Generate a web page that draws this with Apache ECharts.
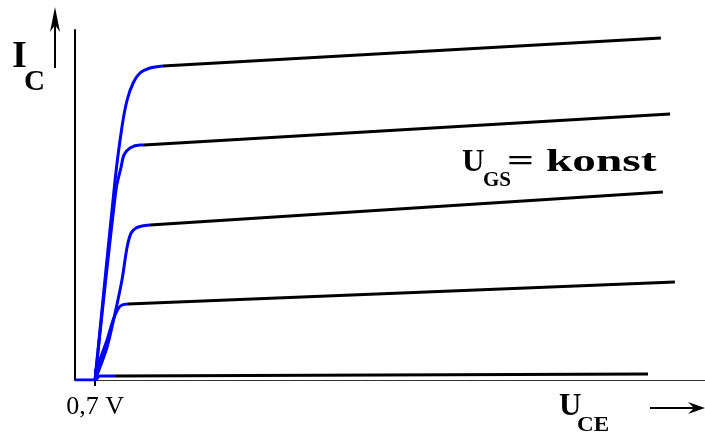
<!DOCTYPE html>
<html>
<head>
<meta charset="utf-8">
<title>MOSFET Kennlinien</title>
<script src="https://cdn.jsdelivr.net/npm/echarts@6/dist/echarts.min.js"></script>
<style>
  html, body { margin: 0; padding: 0; background: #fff; }
  #chart { width: 705px; height: 445px; }
</style>
</head>
<body>
<div id="chart"></div>
<script>
// U_CE in V, I_C in mA (schematic)
const xTicks = [0.7]
const xTickLabels = ['0,7 V']

// blauer Anstieg (ohmscher Bereich) je Kennlinie
const rise1 = [[0.7, 0], [1.4, 20], [1.64, 25.3], [1.82, 28], [2.03, 29.7], [2.27, 30.7], [2.62, 31.2], [3.07, 31.4]]
const rise2 = [[0.7, 0], [1.43, 19], [1.61, 21.3], [1.71, 22.5], [1.92, 23.2], [2.27, 23.5], [2.41, 23.5]]
const rise3 = [[0.7, 0], [1.12, 3.3], [1.4, 6.7], [1.64, 10], [1.82, 13.3], [1.96, 14.7], [2.13, 15.2], [2.34, 15.4], [2.62, 15.5]]
const rise4 = [[0.7, 0], [0.87, 2], [1.12, 4], [1.33, 6], [1.5, 7.1], [1.64, 7.5], [1.85, 7.6]]
const rise5 = [[0, 0], [0.7, 0], [0.87, 0.4], [1.4, 0.4]]

// schwarzer Sättigungsbereich
const sat1 = [[3.07, 31.4], [20.46, 34.2]]
const sat2 = [[2.41, 23.5], [20.78, 26.6]]
const sat3 = [[2.62, 15.5], [20.53, 18.8]]
const sat4 = [[1.85, 7.6], [20.95, 9.8]]
const sat5 = [[1.4, 0.4], [20.01, 0.6]]

const rises = [rise1, rise2, rise3, rise4, rise5]
const sats = [sat1, sat2, sat3, sat4, sat5]

const serif = '"Liberation Serif", "DejaVu Serif", serif'

const chart = echarts.init(document.getElementById('chart'))

const series = []
rises.forEach(d => {
  series.push({
    type: 'line', data: d, showSymbol: false, smooth: 0.3,
    lineStyle: { color: '#0000ff', width: 3 }, z: 3
  })
})
sats.forEach(d => {
  series.push({
    type: 'line', data: d, showSymbol: false,
    lineStyle: { color: '#000', width: 3 }, z: 2
  })
})

chart.setOption({
  animation: false,
  grid: { left: 75, top: 30, right: 0, bottom: 65 },
  xAxis: [{
    type: 'value', min: 0, max: 22,
    axisLine: { lineStyle: { color: '#333', width: 1 } },
    axisTick: { show: true, customValues: xTicks, length: 6, lineStyle: { color: '#000', width: 2 } },
    axisLabel: {
      customValues: xTicks, formatter: () => xTickLabels[0],
      fontFamily: serif, fontSize: 26, color: '#000', margin: 14
    },
    splitLine: { show: false }
  }, {
    type: 'value', min: 0, max: 22, position: 'bottom',
    axisLine: { show: false },
    axisTick: { show: true, inside: true, customValues: xTicks, length: 11, lineStyle: { color: '#000', width: 2 } },
    axisLabel: { show: false },
    splitLine: { show: false }
  }],
  yAxis: {
    type: 'value', min: 0, max: 35,
    axisLine: { show: true, lineStyle: { color: '#000', width: 2 } },
    axisTick: { show: false },
    axisLabel: { show: false },
    splitLine: { show: false }
  },
  series: series,
  graphic: [
    // I_C
    { type: 'text', x: 12, y: 57, style: { text: 'I', font: 'bold 38px ' + serif, fill: '#000', verticalAlign: 'middle' } },
    { type: 'text', x: 24, y: 83, style: { text: 'C', font: 'bold 29px ' + serif, fill: '#000', verticalAlign: 'middle' } },
    { type: 'line', shape: { x1: 55, y1: 68, x2: 55, y2: 14 }, style: { stroke: '#000', lineWidth: 2 } },
    { type: 'polygon', shape: { points: [[55, 7], [60, 32], [55, 25], [50, 32]] }, style: { fill: '#000' } },
    // U_CE
    { type: 'text', x: 559, y: 407, style: { text: 'U', font: 'bold 31px ' + serif, fill: '#000', verticalAlign: 'middle' } },
    { type: 'text', x: 577, y: 426, scaleX: 1.1, style: { text: 'CE', font: 'bold 21px ' + serif, fill: '#000', verticalAlign: 'middle' } },
    { type: 'line', shape: { x1: 650, y1: 408, x2: 698, y2: 408 }, style: { stroke: '#000', lineWidth: 2 } },
    { type: 'polygon', shape: { points: [[705, 408], [688, 402], [694, 408], [688, 414]] }, style: { fill: '#000' } },
    // U_GS = konst
    { type: 'text', x: 462, y: 163, style: { text: 'U', font: 'bold 31px ' + serif, fill: '#000', verticalAlign: 'middle' } },
    { type: 'text', x: 483, y: 181, style: { text: 'GS', font: 'bold 21px ' + serif, fill: '#000', verticalAlign: 'middle' } },
    { type: 'text', x: 507, y: 163, scaleX: 1.53, style: { text: '= konst', font: 'bold 31px ' + serif, fill: '#000', verticalAlign: 'middle' } }
  ]
})
</script>
</body>
</html>
